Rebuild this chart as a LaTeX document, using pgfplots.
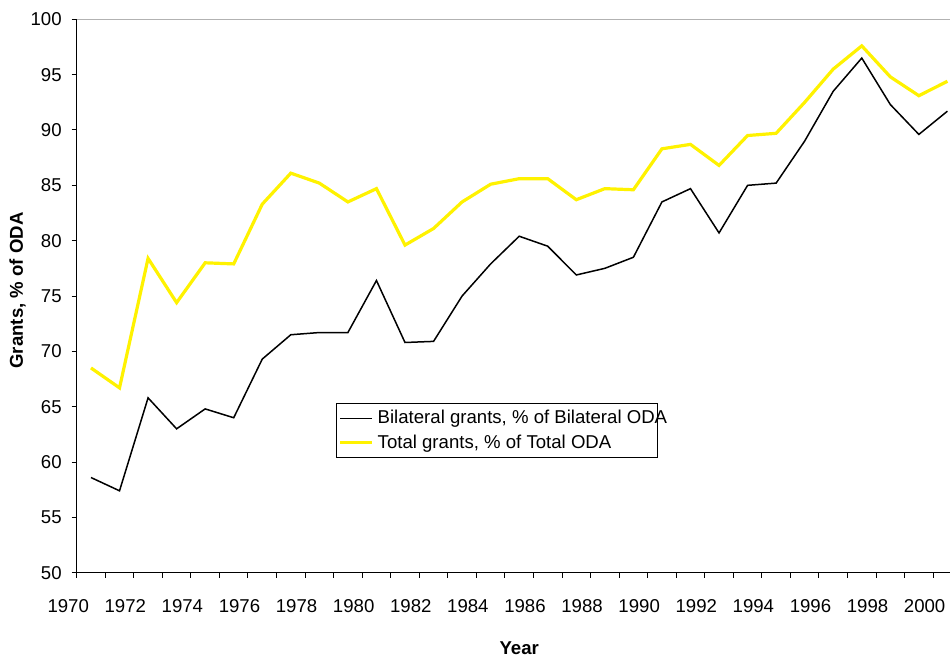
\documentclass[border=0pt]{standalone}
\usepackage{pgfplots}
\pgfplotsset{compat=1.18}
\usepackage{pgfplotstable}
\usepackage{fontspec}
\setmainfont{Liberation Sans}

\pgfplotstableread{
year bil tot
1971 58.6 68.5
1972 57.4 66.7
1973 65.8 78.4
1974 63.0 74.4
1975 64.8 78.0
1976 64.0 77.9
1977 69.3 83.3
1978 71.5 86.1
1979 71.7 85.2
1980 71.7 83.5
1981 76.4 84.7
1982 70.8 79.6
1983 70.9 81.1
1984 75.0 83.5
1985 77.9 85.1
1986 80.4 85.6
1987 79.5 85.6
1988 76.9 83.7
1989 77.5 84.7
1990 78.5 84.6
1991 83.5 88.3
1992 84.7 88.7
1993 80.7 86.8
1994 85.0 89.5
1995 85.2 89.7
1996 89.0 92.5
1997 93.5 95.5
1998 96.5 97.6
1999 92.3 94.8
2000 89.6 93.1
2001 91.7 94.4
}\data

\begin{document}
\begin{tikzpicture}
\useasboundingbox (0,0) rectangle (475pt,327.5pt);
\begin{axis}[
  at={(38.35pt,41.15pt)}, anchor=south west,
  scale only axis, width=442.5pt, height=276.7pt,
  xmin=0, xmax=31, ymin=50, ymax=100,
  axis x line*=bottom, axis y line*=left,
  axis line style={-, black, line width=0.6pt},
  tick align=outside,
  major tick length=2.5pt,
  tick style={black, line width=0.5pt},
  xtick={0,...,31},
  xticklabels={1970,,1972,,1974,,1976,,1978,,1980,,1982,,1984,,1986,,1988,,1990,,1992,,1994,,1996,,1998,,2000,,},
  xticklabel style={xshift=-4.25pt},
  xticklabel shift={7.3pt},
  ytick={50,55,...,100},
  yticklabel shift={1.5pt},
  /pgf/number format/assume math mode=true,
  ticklabel style={font=\fontsize{9.3}{11}\selectfont},
  xlabel={Year},
  ylabel={Grants, \% of ODA},
  label style={font=\fontsize{9.3}{11}\selectfont\bfseries},
  xlabel style={at={(rel axis cs:0.5,0)}, anchor=center, yshift=-37.5pt},
  ylabel style={at={(rel axis cs:0,0.51)}, anchor=center, yshift=29.5pt},
  legend style={at={(rel axis cs:0.293,0.3067)}, anchor=north west,
    draw=black, line width=0.5pt, font=\fontsize{9.3}{11}\selectfont,
    inner xsep=1pt, inner ysep=1.3pt, row sep=0pt,
    cells={anchor=west}},
  legend image code/.code={\draw[#1] (0pt,0pt) -- (16pt,0pt);},
  clip=true,
]
\draw[gray!60, line width=0.8pt] (rel axis cs:0,1) -- (rel axis cs:1,1);
\addplot[black, line width=0.75pt] table[x expr=\thisrow{year}-1970.5, y=bil] {\data};
\addlegendentry{\makebox[137pt][l]{Bilateral grants, \% of Bilateral ODA}}
\addplot[yellow, line width=1.6pt] table[x expr=\thisrow{year}-1970.5, y=tot] {\data};
\addlegendentry{\makebox[137pt][l]{Total grants, \% of Total ODA}}
\end{axis}
\end{tikzpicture}
\end{document}
